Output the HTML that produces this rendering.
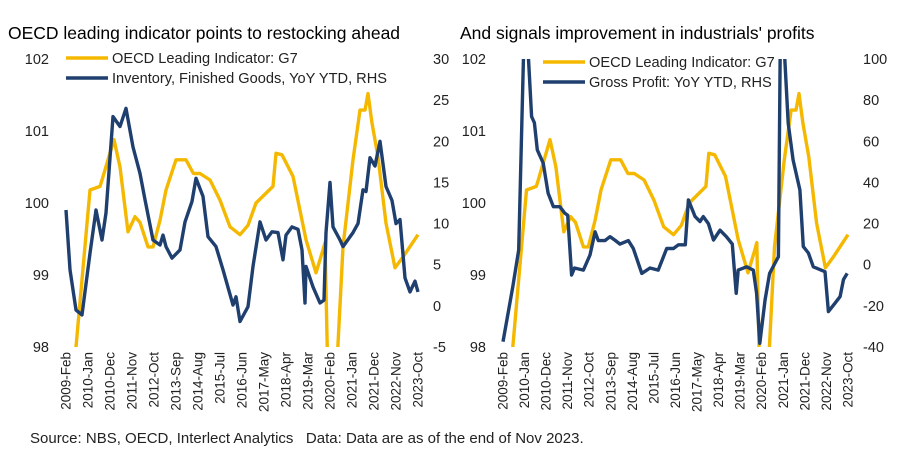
<!DOCTYPE html>
<html><head><meta charset="utf-8"><style>
body{margin:0;background:#fff;}
svg{display:block;font-family:"Liberation Sans",sans-serif;}
</style></head><body>
<svg id="c" width="900" height="460"></svg>
<script>
// ---- data (month index since 2009-Feb, value) ----
const tickLabels = ["2009-Feb","2010-Jan","2010-Dec","2011-Nov","2012-Oct","2013-Sep","2014-Aug","2015-Jul","2016-Jun","2017-May","2018-Apr","2019-Mar","2020-Feb","2021-Jan","2021-Dec","2022-Nov","2023-Oct"];
const leftTicks = [98,99,100,101,102];
const invTicks = [-5,0,5,10,15,20,25,30];
const profTicks = [-40,-20,0,20,40,60,80,100];
const oecdMonths = [0,5,12,17,18,24,27,31,34.5,37,41,43.5,47,50,55,60,63.7,67,72,77,82,87,91,95,103.5,105,108,113.5,120,125,128.5,129.5,131,133,135,138.5,143.5,147,149.5,151,153,156,160,164.5,168.5,176];
const oecdValues = [97.3,98,100.18,100.23,100.32,100.88,100.5,99.6,99.81,99.73,99.39,99.39,99.76,100.18,100.6,100.6,100.41,100.41,100.32,100.04,99.67,99.56,99.69,100,100.23,100.69,100.67,100.37,99.49,99.03,99.35,99.45,97.5,96.9,97.5,99.39,100.6,101.29,101.29,101.52,101.11,100.64,99.72,99.1,99.25,99.56];
const invMonths = [0,2,5,8,12,15,18,20,23.5,27,30,33.5,37,39.5,43.5,47,48.5,50,53,57,59.5,63,65,68.5,71,75,78.5,83.5,85,87,91,93.5,97,100,103,106,108.5,110,113,116,118,119.5,120,123.5,127,129,130,132,133.5,137,138.5,143.5,146,148.5,150,152,154.5,157,160,163,165,167,169.5,172,174.5,176];
const invValues = [11.65,4.4,-0.5,-1.1,6.4,11.65,8,11.3,23,21.8,24,19.3,16.1,12.9,8,7.4,8.6,7.2,5.8,6.8,10.2,12.7,15.5,13.3,8.4,7.2,4.4,0.1,1.1,-1.9,-0.1,4.8,10.2,8,9,8.9,5.6,8.6,9.6,9.3,6.8,0.35,4.8,2.3,0.35,0.7,8.9,15,9.6,8,7.2,8.9,10,14.1,13.9,18,17,20,14.5,12.8,10,10.5,3.4,1.7,3,1.7];
const profMonths = [0,5,8,10.4,11.5,13,14.6,16,17.5,20.5,23,25.7,29,31.6,33,35,36.5,41,44.4,47,48.6,52,54.6,57,59.7,64,66.5,70.8,75,79.2,83.5,87,89.5,93,94.6,98,100.5,102.2,104.8,107.4,110.7,114,117,119,120,124.3,127.7,129.4,131,133.7,136,140.5,141.5,142.5,143.8,145.5,148,151.5,153.2,155.8,158.3,164.3,166,169.4,172,173.7,175.6];
const profValues = [-37.4,-10.7,7.2,99.5,112,100,72,69,55.8,49.4,34.8,28.2,28.2,25,24,-5,-1.6,-2.6,4.7,16,11.7,11.7,13.6,12,10,11.7,7.9,-4.2,-1.6,-2.6,7.9,7.9,9.7,9.7,31.5,23.4,21,23.4,20,12,16.8,13.6,10,-13.9,-2.6,-1,-2.6,-13.9,-38.2,-17,-4.2,3.9,110,130,100,68.8,50.9,36.3,8.8,5.7,-1,-3.4,-22.8,-18.7,-15.5,-7.2,-4.2];

const NS="http://www.w3.org/2000/svg";
const svg=document.getElementById('c');
function mk(tag,attrs,parent){const e=document.createElementNS(NS,tag);for(const k in attrs)e.setAttribute(k,attrs[k]);(parent||svg).appendChild(e);return e;}
function txt(s,attrs,parent){const e=mk('text',attrs,parent);e.textContent=s;return e;}
const YT=59,YB=347,GOLD="#F5B800",NAVY="#1F3F6E";

function panel(p){
  const g=mk('g',{});
  
  
  const xs=m=>p.x0+m*p.dx;
  const yl=v=>YB-(v-98)/4*(YB-YT);
  const yr=v=>YB-(v-p.rmin)/(p.rmax-p.rmin)*(YB-YT);
  const cp=mk('clipPath',{id:'clip'+p.id},g);
  mk('rect',{x:p.x0-5,y:YT,width:p.w,height:YB-YT},cp);
  const t=txt(p.title,{x:p.tx,y:39,'font-size':17.5,fill:'#000'},g);
  
  
  leftTicks.forEach(v=>{const e=txt(v,{x:p.lx,y:yl(v)+5,'font-size':14.5,'text-anchor':'end',fill:'#222'},g);
    });
  p.rticks.forEach(v=>{const e=txt(v,{x:p.rx,y:yr(v)+5,'font-size':14.5,'text-anchor':'start',fill:'#222'},g);
    });
  tickLabels.forEach((s,i)=>{const x=xs(i*11);const e=txt(s,{x:0,y:0,'font-size':13.5,'text-anchor':'end',fill:'#222',transform:`translate(${x+4.5},352) rotate(-90)`},g);
    });
  const line=(ms,vs,ys,col,nm)=>{const d=ms.map((m,i)=>(i?'L':'M')+xs(m).toFixed(1)+','+ys(vs[i]).toFixed(1)).join('');
    const e=mk('path',{d,fill:'none',stroke:col,'stroke-width':3.4,'stroke-linejoin':'round','clip-path':`url(#clip${p.id})`},g);
    };
  line(oecdMonths,oecdValues,yl,GOLD,'oecd-line');
  line(p.m,p.v,yr,NAVY,p.sname);
  [[GOLD,'OECD Leading Indicator: G7',0],[NAVY,p.leg,20]].forEach(([c,s,o])=>{
    const lg=mk('g',{},g);
    mk('line',{x1:p.lgx,x2:p.lgx+42,y1:p.lgy+o,y2:p.lgy+o,stroke:c,'stroke-width':3.5},lg);
    txt(s,{x:p.lgx+46,y:p.lgy+o+5,'font-size':14.6,fill:'#222'},lg);});
}
panel({id:1,name:'inventory-panel',x0:66,dx:2,w:362,title:'OECD leading indicator points to restocking ahead',tx:8,lx:49,rx:433,rmin:-5,rmax:30,rticks:invTicks,m:invMonths,v:invValues,sname:'inventory-line',leg:'Inventory, Finished Goods, YoY YTD, RHS',lgx:66,lgy:58});
panel({id:2,name:'profit-panel',x0:503,dx:1.96,w:354,title:"And signals improvement in industrials' profits",tx:460,lx:486,rx:863,rmin:-40,rmax:100,rticks:profTicks,m:profMonths,v:profValues,sname:'profit-line',leg:'Gross Profit: YoY YTD, RHS',lgx:543,lgy:62});
const s=txt('Source: NBS, OECD, Interlect Analytics\u00a0\u00a0\u00a0Data: Data are as of the end of Nov 2023.',{x:30,y:443,'font-size':15,fill:'#222'});


</script>
</body></html>
